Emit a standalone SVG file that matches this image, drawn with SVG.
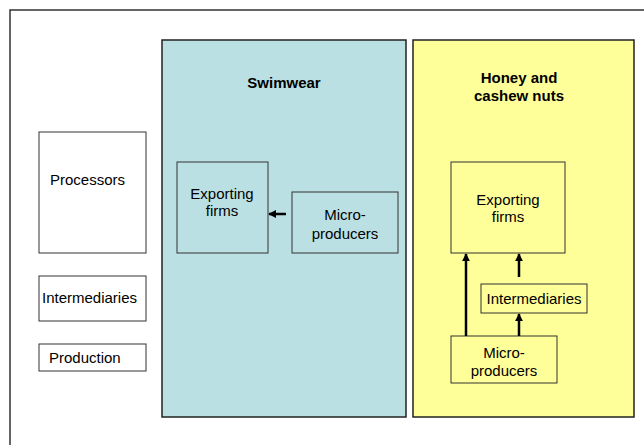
<svg xmlns="http://www.w3.org/2000/svg" width="644" height="445" viewBox="0 0 644 445">
  <style>
    .frame { fill: none; stroke: #333; stroke-width: 1.5; }
    .panel { stroke: #222; stroke-width: 1.5; }
    .box { stroke: #333; stroke-width: 1; }
    .lbl { font-family: "Liberation Sans", Arial, sans-serif; font-size: 15px; fill: #000; }
    .ttl { font-family: "Liberation Sans", Arial, sans-serif; font-size: 15px; font-weight: bold; fill: #000; text-anchor: middle; }
    .mid { text-anchor: middle; }
    .flow { stroke: #000; stroke-width: 2.5; fill: none; marker-end: url(#tip); }
  </style>
  <defs>
    <marker id="tip" viewBox="0 0 10 10" refX="9" refY="5" markerWidth="3.2" markerHeight="3.2" markerUnits="strokeWidth" orient="auto">
      <path d="M0,0 L10,5 L0,10 Z" fill="#000"/>
    </marker>
  </defs>

  <rect width="644" height="445" fill="#fff"/>
  <!-- outer frame -->
  <path class="frame" d="M10,445 V10 H644"/>

  <!-- level legend -->
  <g id="processors">
    <rect class="box" x="39" y="132" width="107" height="121" fill="#fff"/>
    <text class="lbl" x="50" y="185">Processors</text>
  </g>
  <g id="intermediaries">
    <rect class="box" x="39" y="276" width="107" height="45" fill="#fff"/>
    <text class="lbl" x="42" y="303">Intermediaries</text>
  </g>
  <g id="production">
    <rect class="box" x="39" y="344" width="107" height="27" fill="#fff"/>
    <text class="lbl" x="49" y="363">Production</text>
  </g>

  <!-- swimwear chain -->
  <g id="swimwear">
    <rect class="panel" x="162" y="40" width="244" height="377" fill="#BBE0E3"/>
    <text class="ttl" x="284" y="88">Swimwear</text>
  </g>
  <g id="sw-exporting">
    <rect class="box" x="177" y="162" width="91" height="91" fill="#BBE0E3"/>
    <text class="lbl mid" x="222" y="199">Exporting</text>
    <text class="lbl mid" x="222" y="216">firms</text>
  </g>
  <g id="sw-micro">
    <rect class="box" x="292" y="192" width="106" height="61" fill="#BBE0E3"/>
    <text class="lbl mid" x="345" y="220">Micro-</text>
    <text class="lbl mid" x="345" y="239">producers</text>
  </g>

  <!-- honey and cashew chain -->
  <g id="honey">
    <rect class="panel" x="413" y="40" width="221" height="377" fill="#FFFF99"/>
    <text class="ttl" x="519" y="83">Honey and</text>
    <text class="ttl" x="519" y="101">cashew nuts</text>
  </g>
  <g id="hc-exporting">
    <rect class="box" x="451" y="162" width="114" height="91" fill="#FFFF99"/>
    <text class="lbl mid" x="508" y="205">Exporting</text>
    <text class="lbl mid" x="508" y="222">firms</text>
  </g>
  <g id="hc-intermediaries">
    <rect class="box" x="481" y="284" width="106" height="29" fill="#FFFF99"/>
    <text class="lbl mid" x="534" y="304">Intermediaries</text>
  </g>
  <g id="hc-micro">
    <rect class="box" x="451" y="336" width="106" height="47" fill="#FFFF99"/>
    <text class="lbl mid" x="504" y="358">Micro-</text>
    <text class="lbl mid" x="504" y="376">producers</text>
  </g>

  <!-- connectors -->
  <g id="connectors">
    <line class="flow" x1="286" y1="214" x2="269" y2="214"/>
    <line class="flow" x1="466" y1="336" x2="466" y2="254"/>
    <line class="flow" x1="519" y1="277" x2="519" y2="254"/>
    <line class="flow" x1="519" y1="336" x2="519" y2="314"/>
  </g>
</svg>
